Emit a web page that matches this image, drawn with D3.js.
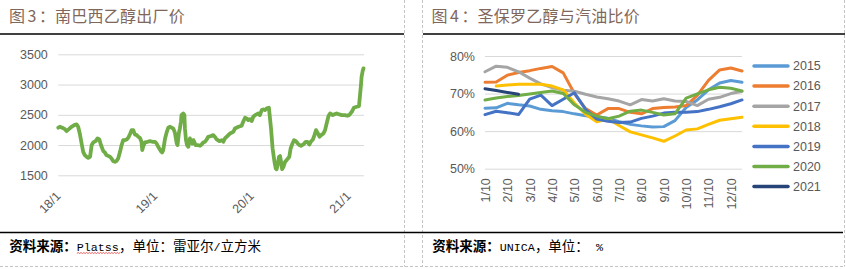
<!DOCTYPE html>
<html>
<head>
<meta charset="utf-8">
<script src="https://cdnjs.cloudflare.com/ajax/libs/d3/7.8.5/d3.min.js"></script>
<style>
  body { margin: 0; background: #fff; }
  svg  { display: block; }
  text { font-family: "Liberation Sans", Arial, sans-serif; }
</style>
</head>
<body>
<svg id="chart" width="846" height="269"></svg>
<script>
// ---- figure 3 : ethanol mill price (BRL/m3) ----
const priceDates = [
  "2018-01-01","2018-01-07","2018-01-16","2018-01-26","2018-02-01","2018-02-10","2018-02-20","2018-03-02",
  "2018-03-11","2018-03-17","2018-03-23","2018-03-30","2018-04-05","2018-04-11","2018-04-18","2018-04-24",
  "2018-05-01","2018-05-07","2018-05-13","2018-05-22","2018-05-29","2018-06-05","2018-06-11","2018-06-20",
  "2018-06-26","2018-07-02","2018-07-15","2018-07-21","2018-07-27","2018-08-03","2018-08-09","2018-08-15",
  "2018-08-22","2018-08-28","2018-09-03","2018-09-09","2018-09-16","2018-09-22","2018-09-28","2018-10-05",
  "2018-10-11","2018-10-17","2018-10-24","2018-10-30","2018-11-05","2018-11-11","2018-11-14","2018-11-17",
  "2018-11-24","2018-12-04","2018-12-13","2018-12-22",
  "2019-01-01","2019-01-07","2019-01-13","2019-01-23","2019-01-28","2019-02-01","2019-02-08","2019-02-14",
  "2019-02-20","2019-02-27","2019-03-05","2019-03-11","2019-03-17","2019-03-24","2019-03-27","2019-04-01",
  "2019-04-05","2019-04-09","2019-04-11","2019-04-18","2019-04-22","2019-04-24","2019-04-28","2019-05-02",
  "2019-05-07","2019-05-10","2019-05-13","2019-05-17","2019-05-22","2019-05-26","2019-05-29","2019-06-03",
  "2019-06-11","2019-06-20","2019-06-26","2019-07-02","2019-07-09","2019-07-15","2019-07-21","2019-07-31",
  "2019-08-09","2019-08-15","2019-08-22","2019-09-01","2019-09-10","2019-09-16","2019-09-22","2019-10-05",
  "2019-10-11","2019-10-24","2019-10-30","2019-11-12","2019-11-24","2019-11-30","2019-12-07","2019-12-13",
  "2019-12-19","2019-12-26",
  "2020-01-01","2020-01-07","2020-01-14","2020-01-26","2020-02-01","2020-02-08","2020-02-14","2020-02-20",
  "2020-02-27","2020-03-06","2020-03-14","2020-03-20","2020-03-27","2020-04-01","2020-04-04","2020-04-08",
  "2020-04-13","2020-04-17","2020-04-21","2020-04-25","2020-04-30","2020-05-06","2020-05-12","2020-05-22",
  "2020-05-27","2020-06-03","2020-06-09","2020-06-16","2020-06-23","2020-06-29","2020-07-05","2020-07-14",
  "2020-07-23","2020-07-29","2020-08-06","2020-08-11","2020-08-19","2020-08-25","2020-08-31","2020-09-07",
  "2020-09-13","2020-09-19","2020-09-28","2020-10-04","2020-10-10","2020-10-17","2020-10-23","2020-11-02",
  "2020-11-11","2020-11-17","2020-11-27","2020-12-06","2020-12-18","2020-12-27",
  "2021-01-03","2021-01-13","2021-01-21","2021-01-31","2021-02-09","2021-02-13","2021-02-16","2021-02-19",
  "2021-02-23","2021-02-26"
];
const prices = [
  2286,2302,2286,2263,2230,2263,2302,2330,2341,2302,2192,2026,1888,1833,1806,1789,
  1806,2000,2043,2065,2109,2092,2000,1900,1877,1833,1806,1778,1734,1723,1739,1778,
  1888,2000,2081,2081,2092,2120,2175,2247,2247,2175,2164,2137,2120,2054,1916,1971,
  2043,2054,2065,2054,
  2054,2026,1971,1900,1877,1916,2109,2208,2286,2302,2286,2275,2208,2026,2000,2192,
  2275,2385,2495,2523,2495,2275,2081,2000,1971,2054,2109,2054,2026,2081,2054,2000,
  2000,1988,2010,2043,2054,2092,2137,2148,2164,2137,2092,2065,2081,2054,2109,2164,
  2192,2219,2275,2302,2319,2385,2451,2440,2413,2429,
  2396,2468,2495,2523,2495,2578,2589,2578,2606,2617,2275,1943,1723,1612,1601,1667,
  1806,1817,1723,1601,1640,1723,1750,1806,1943,2026,2081,2065,2026,2000,1988,2010,
  2054,2054,2010,2054,2092,2164,2247,2192,2137,2164,2192,2247,2357,2479,2523,2495,
  2512,2523,2506,2495,2495,2484,
  2495,2550,2617,2633,2644,2827,2965,3130,3224,3268
];
const priceTicks = [1500, 2000, 2500, 3000, 3500];
const yearTicks  = ["2018-01-01", "2019-01-01", "2020-01-01", "2021-01-01"];
const yearLabels = ["18/1", "19/1", "20/1", "21/1"];

// ---- figure 4 : Sao Paulo ethanol / gasoline price ratio (%) ----
const periods = ["1/10","1/25","2/10","2/25","3/10","3/25","4/10","4/25","5/10","5/25","6/10","6/25",
                 "7/10","7/25","8/10","8/25","9/10","9/25","10/10","10/25","11/10","11/25","12/10","12/25"];
const seasons = ["2015", "2016", "2017", "2018", "2019", "2020", "2021"];
const ratio2015 = [66.1,66.2,67.4,67.0,66.7,65.8,65.4,65.2,64.6,64.1,63.8,63.4,62.5,61.8,61.4,61.1,61.2,62.8,66.3,68.3,71.0,72.8,73.5,73.0];
const ratio2016 = [73.0,73.1,74.9,75.6,76.1,76.7,77.2,75.5,70.0,66.0,64.3,66.0,66.0,65.0,64.6,66.0,66.3,66.4,66.8,69.5,73.5,76.3,76.8,76.0];
const ratio2017 = [75.8,77.3,77.0,75.8,74.1,72.6,71.6,70.9,70.6,69.8,69.1,68.6,68.0,67.0,68.4,68.0,68.6,68.0,67.9,66.8,68.5,69.0,70.0,70.6];
const ratio2018 = [null,72.0,72.3,72.5,72.5,72.5,72.0,71.0,67.5,64.5,62.5,63.3,61.5,59.8,59.0,58.2,57.3,58.7,60.3,60.6,61.8,62.9,63.3,63.7];
const ratio2019 = [64.4,65.3,64.9,64.4,68.5,69.6,66.8,68.5,70.2,65.8,63.2,62.6,62.3,62.4,63.4,64.0,64.8,65.0,65.0,65.2,65.8,66.5,67.3,68.3];
const ratio2020 = [68.3,68.8,69.2,69.5,69.9,70.3,70.7,70.0,67.0,65.0,64.0,63.3,64.0,65.3,65.6,65.0,64.3,64.6,68.8,69.9,71.0,71.7,71.4,70.7];
const ratio2021 = [71.3,70.8,70.3,69.8];
const ratioTicks = [50, 60, 70, 80];
const seasonColors = ["#5B9BD5", "#ED7D31", "#A5A5A5", "#FFC000", "#4472C4", "#70AD47", "#264478"];

drawPage();

function drawPage() {
  let svg       = d3.select("#chart"),
    inkGray     = "#595959",
    gridGray    = "#D9D9D9",
    titleColor  = "#7f675b",
    dashGray    = "#c4c4c4",
    parseDate   = d3.timeParse("%Y-%m-%d");

  svg.append("rect").attr("width", 846).attr("height", 269).attr("fill", "#fff");

  /////////////////////
  //     Frames      //
  /////////////////////

  // dashed page borders
  [[404.5, 0, 404.5, 266.5], [422.5, 0, 422.5, 266.5], [844.5, 0, 844.5, 266.5], [0, 266.5, 844.5, 266.5]]
    .forEach(l => {
      svg.append("line")
        .attr("x1", l[0]).attr("y1", l[1]).attr("x2", l[2]).attr("y2", l[3])
        .attr("stroke", dashGray).attr("stroke-dasharray", "3,2");
    });

  // black rules under titles and above sources
  [[0, 34, 404, 34], [423, 34, 845, 34], [0, 232.5, 843, 232.5]].forEach(l => {
    svg.append("line")
      .attr("x1", l[0]).attr("y1", l[1]).attr("x2", l[2]).attr("y2", l[3])
      .attr("stroke", "#000").attr("stroke-width", 1.3);
  });

  // titles: "图N：" pieces placed one by one, then the name
  function title(x, num, rest) {
    let t = svg.append("text")
      .attr("y", 22)
      .attr("fill", titleColor)
      .style("font-family", "'Noto Sans CJK SC', sans-serif")
      .style("font-size", "16px");
    t.append("tspan").attr("x", x).text("图");
    t.append("tspan").attr("x", x + 18.5).text(num);
    t.append("tspan").attr("x", x + 30).text("：");
    t.append("tspan").attr("x", x + 46).style("letter-spacing", "0.25px").text(rest);
  }
  title(9, "3", "南巴西乙醇出厂价");
  title(431.5, "4", "圣保罗乙醇与汽油比价");

  // source lines
  function source(x, latin, after) {
    let t = svg.append("text")
      .attr("x", x).attr("y", 250.5)
      .attr("fill", "#000")
      .style("font-family", "'Noto Sans CJK SC', sans-serif")
      .style("font-size", "13.5px");
    t.append("tspan").style("font-weight", "bold").text("资料来源：");
    let lat = t.append("tspan").style("font-family", "'Liberation Mono', monospace").style("font-size", "11.7px").text(latin);
    after.forEach(a => {
      let s = t.append("tspan").text(a.text);
      if (a.mono) s.style("font-family", "'Liberation Mono', monospace").style("font-size", "11.7px");
    });
    return lat;
  }
  let platss = source(9.3, "Platss", [{text: "，单位：雷亚尔"}, {text: "/", mono: true}, {text: "立方米"}]);
  source(432.3, "UNICA", [{text: "，单位："}, {text: " %", mono: true}]);

  // spell-check squiggle under "Platss"
  let pNode = platss.node(),
    sx0 = pNode.getStartPositionOfChar(0).x,
    sx1 = sx0 + pNode.getComputedTextLength(),
    squiggle = d3.path();
  squiggle.moveTo(sx0, 253.5);
  for (let sx = sx0, k = 0; sx < sx1; sx += 1.4, k++) squiggle.lineTo(sx + 1.4, k % 2 ? 253.5 : 252.5);
  svg.append("path").attr("d", squiggle.toString()).attr("fill", "none").attr("stroke", "#e02020").attr("stroke-width", 0.7);

  /////////////////////
  //   Price chart   //
  /////////////////////

  let px = d3.scaleTime().domain([parseDate("2018-01-01"), parseDate("2021-02-28")]).range([58.3, 364]),
    py   = d3.scaleLinear().domain([1500, 3500]).range([175.3, 54.3]),
    priceData = priceDates.map((d, i) => ({date: parseDate(d), value: prices[i]}));

  let pyAxis = svg.append("g")
    .attr("transform", "translate(58.3,0)")
    .call(d3.axisLeft(py).tickValues(priceTicks).tickSize(-(364 - 58.3)).tickPadding(10.5).tickFormat(d3.format("d")));
  pyAxis.select(".domain").remove();
  pyAxis.selectAll("line").attr("stroke", gridGray);
  pyAxis.selectAll("text").attr("fill", inkGray).style("font-size", "12.5px").style("font-family", "'Liberation Sans', Arial, sans-serif");

  let pxAxis = svg.append("g")
    .attr("transform", "translate(0,175.3)")
    .call(d3.axisBottom(px).tickValues(yearTicks.map(parseDate)).tickSize(0)
      .tickFormat((d, i) => yearLabels[i]));
  pxAxis.select(".domain").remove();
  pxAxis.selectAll("text")
    .attr("fill", inkGray).style("font-size", "12.5px").style("font-family", "'Liberation Sans', Arial, sans-serif")
    .attr("text-anchor", "end")
    .attr("x", 0).attr("y", 0).attr("dy", "0.35em")
    .attr("transform", "translate(-0.5,18.5) rotate(-45)");

  svg.append("path")
    .datum(priceData)
    .attr("fill", "none")
    .attr("stroke", "#70AD47")
    .attr("stroke-width", 3.8)
    .attr("stroke-linejoin", "round")
    .attr("stroke-linecap", "round")
    .attr("d", d3.line().x(d => px(d.date)).y(d => py(d.value)));

  /////////////////////
  //   Ratio chart   //
  /////////////////////

  let rx = d3.scalePoint().domain(periods).range([485, 742]),
    ry   = d3.scaleLinear().domain([50, 80]).range([168.7, 56]),
    ratios = [ratio2015, ratio2016, ratio2017, ratio2018, ratio2019, ratio2020, ratio2021];

  let ryAxis = svg.append("g")
    .attr("transform", "translate(485,0)")
    .call(d3.axisLeft(ry).tickValues(ratioTicks).tickSize(-(742 - 485)).tickPadding(10).tickFormat(d => d + "%"));
  ryAxis.select(".domain").remove();
  ryAxis.selectAll("line").attr("stroke", gridGray);
  ryAxis.selectAll("text").attr("fill", inkGray).style("font-size", "12.5px").style("font-family", "'Liberation Sans', Arial, sans-serif");

  let rxAxis = svg.append("g")
    .attr("transform", "translate(0,168.7)")
    .call(d3.axisBottom(rx).tickValues(periods.filter((d, i) => i % 2 === 0)).tickSize(0));
  rxAxis.select(".domain").remove();
  rxAxis.selectAll("text")
    .attr("fill", inkGray).style("font-size", "12.5px").style("font-family", "'Liberation Sans', Arial, sans-serif")
    .attr("text-anchor", "end")
    .attr("x", -9.5).attr("y", 0).attr("dy", "0.35em")
    .attr("transform", "rotate(-90)");

  let ratioLine = d3.line()
    .defined(d => d.value != null)
    .x(d => rx(d.period))
    .y(d => ry(d.value));

  ratios.forEach((series, k) => {
    svg.append("path")
      .datum(series.map((v, i) => ({period: periods[i], value: v})))
      .attr("fill", "none")
      .attr("stroke", seasonColors[k])
      .attr("stroke-width", 3)
      .attr("stroke-linejoin", "round")
      .attr("stroke-linecap", "round")
      .attr("d", ratioLine);
  });

  // legend
  let legend = svg.append("g").attr("transform", "translate(754,66)");
  seasons.forEach((s, k) => {
    let row = legend.append("g").attr("transform", "translate(0," + (k * 20.1) + ")");
    row.append("line").attr("x1", 0).attr("x2", 34)
      .attr("stroke", seasonColors[k]).attr("stroke-width", 3.5).attr("stroke-linecap", "round");
    row.append("text").attr("x", 39).attr("dy", "0.35em")
      .attr("fill", inkGray).style("font-size", "12.5px").text(s);
  });
}
</script>
</body>
</html>
